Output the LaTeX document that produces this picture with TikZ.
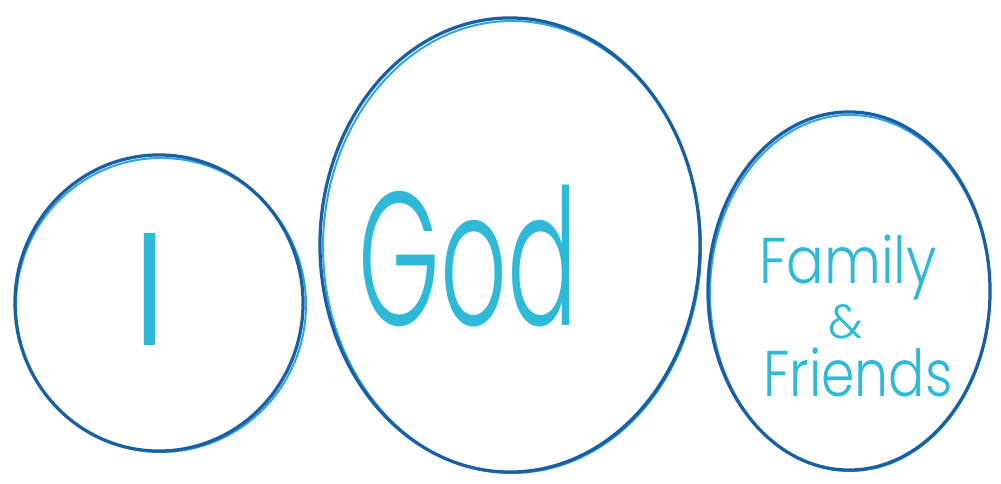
\documentclass[tikz,border=0pt]{standalone}
\usepackage{fontspec}
\setmainfont{Poppins}[UprightFont=* Light]
\usetikzlibrary{shapes.geometric}
\definecolor{penblue}{RGB}{25,95,165}
\definecolor{penhalo}{RGB}{45,165,225}
\definecolor{inkcyan}{RGB}{45,185,215}
\newcommand{\narrow}[2]{\scalebox{#1}[1]{#2}}

\begin{document}
\begin{tikzpicture}[x=0.025cm, y=-0.025cm,
  loop/.style={ellipse, draw=penblue, line width=2.3pt, inner sep=0pt},
  halo/.style={penhalo, line width=1.4pt},
  word/.style={text=inkcyan, inner sep=0pt}
]
  \useasboundingbox (0,0) rectangle (1001,484);

  % marker halos under the outlines
  \draw[halo] (161,305) ellipse [x radius=145, y radius=147];
  \draw[halo] (512,247) ellipse [x radius=189, y radius=226];
  \draw[halo] (850,293) ellipse [x radius=140, y radius=178];

  % the three loops
  \node[loop, minimum width=7.2cm, minimum height=7.4cm] (self) at (159,303) {};
  \node[loop, minimum width=9.5cm, minimum height=11.35cm] (god) at (510,245) {};
  \node[loop, minimum width=7.05cm, minimum height=8.95cm] (kin) at (849,291) {};

  % words
  \node[word, font=\fontsize{114pt}{114pt}\selectfont] (selfword) at (150,289) {I};
  \node[word, font=\fontsize{135pt}{135pt}\selectfont] (godword) at (468,256) {\narrow{0.55}{God}};
  \node[word, font=\fontsize{46pt}{46pt}\selectfont, anchor=base] (family) at (848,284) {\narrow{0.86}{Family}};
  \node[word, font=\fontsize{34pt}{34pt}\selectfont, anchor=base] (amp) at (846,339) {\&};
  \node[word, font=\fontsize{46pt}{46pt}\selectfont, anchor=base] (friends) at (858,397) {\narrow{0.83}{Friends}};
\end{tikzpicture}
\end{document}
